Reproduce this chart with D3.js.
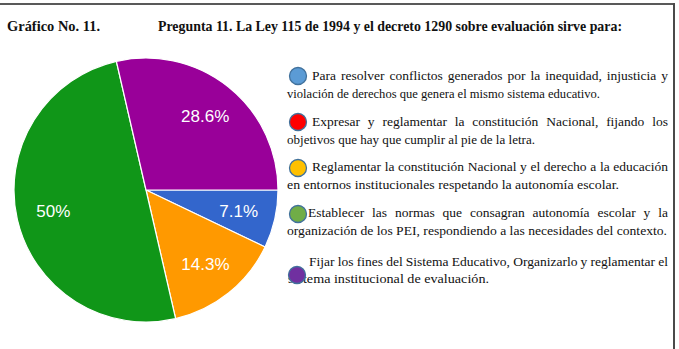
<!DOCTYPE html>
<html lang="es">
<head>
<meta charset="UTF-8">
<title>Gráfico No. 11</title>
<script src="https://d3js.org/d3.v7.min.js"></script>
<style>
  body { margin: 0; background: #fff; }
  svg { display: block; }
</style>
</head>
<body>
<div id="chart"></div>
<script>
const w = 679;
const h = 349;

// data
const categories = [
  "Para resolver conflictos generados por la inequidad, injusticia y violación de derechos que genera el mismo sistema educativo.",
  "Expresar y reglamentar la constitución Nacional, fijando los objetivos que hay que cumplir al pie de la letra.",
  "Reglamentar la constitución Nacional y el derecho a la educación en entornos institucionales respetando la autonomía escolar.",
  "Establecer las normas que consagran autonomía escolar y la organización de los PEI, respondiendo a las necesidades del contexto.",
  "Fijar los fines del Sistema Educativo, Organizarlo y reglamentar el sistema institucional de evaluación."
];
const legendLines = [
  ["Para resolver conflictos generados por la inequidad, injusticia y", "violación de derechos que genera el mismo sistema educativo."],
  ["Expresar y reglamentar la constitución Nacional, fijando los", "objetivos que hay que cumplir al pie de la letra."],
  ["Reglamentar la constitución Nacional y el derecho a la educación", "en entornos institucionales respetando la autonomía escolar."],
  ["Establecer las normas que consagran autonomía escolar y la", "organización de los PEI, respondiendo a las necesidades del contexto."],
  ["Fijar los fines del Sistema Educativo, Organizarlo y reglamentar el", "sistema institucional de evaluación."]
];
const values = [7.1, 0, 14.3, 50, 28.6];
const pieColors = ["#3366cc", "#dc3912", "#ff9900", "#109618", "#990099"];
const legendColors = ["#5b9bd5", "#ff0000", "#ffc000", "#70ad47", "#7030a0"];

const svg = d3.select("#chart").append("svg")
  .attr("width", w)
  .attr("height", h);

// frame (top and right only)
svg.append("line").attr("x1", 0).attr("x2", 675).attr("y1", 4).attr("y2", 4)
  .attr("stroke", "#222").attr("stroke-width", 1.5);
svg.append("line").attr("x1", 674).attr("x2", 674).attr("y1", 3.3).attr("y2", h)
  .attr("stroke", "#4a4a4a").attr("stroke-width", 2);

// titles
const titleFont = "'Liberation Serif', 'Times New Roman', serif";
svg.append("text").attr("x", 7).attr("y", 31)
  .style("font", `bold 14px ${titleFont}`).attr("fill", "#111")
  .attr("textLength", 93).attr("lengthAdjust", "spacingAndGlyphs")
  .text("Gráfico No. 11.");
svg.append("text").attr("x", 158).attr("y", 31)
  .style("font", `bold 14px ${titleFont}`).attr("fill", "#111")
  .attr("textLength", 464).attr("lengthAdjust", "spacingAndGlyphs")
  .text("Pregunta 11. La Ley 115 de 1994 y el decreto 1290 sobre evaluación sirve para:");

// pie
const cx = 146, cy = 190, r = 132;
const pie = d3.pie().sort(null).value(d => d)
  .startAngle(Math.PI / 2).endAngle(Math.PI / 2 + 2 * Math.PI);
const arcs = pie(values);
const arc = d3.arc().innerRadius(0).outerRadius(r);
const labelArc = d3.arc().innerRadius(r * 0.72).outerRadius(r * 0.72);

const g = svg.append("g").attr("transform", `translate(${cx},${cy})`);
g.selectAll("path")
  .data(arcs.filter(d => d.value > 0))
  .join("path")
  .attr("d", arc)
  .attr("fill", d => pieColors[d.index])
  .attr("stroke", "#fff")
  .attr("stroke-width", 1.2);

g.selectAll("text")
  .data(arcs.filter(d => d.value > 0))
  .join("text")
  .attr("transform", d => `translate(${labelArc.centroid(d)})`)
  .attr("text-anchor", "middle")
  .attr("dy", "0.36em")
  .style("font", "17px 'Liberation Sans', Arial, sans-serif")
  .attr("fill", "#fff")
  .text(d => d3.format(".3~")(d.value) + "%");

// legend with justified text
const legendFont = "13.5px 'Liberation Serif', 'Times New Roman', serif";
const rightEdge = 668;
const items = [
  { cy: 76, first: 312, y1: 80, y2: 98, x2: 287, end2: 600, cxc: 298 },
  { cy: 122, first: 312, y1: 126, y2: 144, x2: 287, end2: 535, cxc: 298 },
  { cy: 168, first: 312, y1: 171, y2: 189, x2: 287, end2: 619, cxc: 298 },
  { cy: 214, first: 308, y1: 217, y2: 235, x2: 287, end2: 667, cxc: 298 },
  { cy: 275, first: 309, y1: 266, y2: 283, x2: 288, end2: 489, cxc: 297 }
];

const legend = svg.append("g");
const measure = svg.append("text").style("font", legendFont).attr("visibility", "hidden");
function wordWidth(s) { measure.text(s); return measure.node().getComputedTextLength(); }

function justify(group, line, x0, x1, y) {
  const words = line.split(" ");
  const widths = words.map(wordWidth);
  const total = d3.sum(widths);
  const gap = (x1 - x0 - total) / (words.length - 1);
  let x = x0;
  words.forEach((wd, i) => {
    group.append("text").attr("x", x).attr("y", y)
      .style("font", legendFont).attr("fill", "#111").text(wd);
    x += widths[i] + gap;
  });
}

items.forEach((it, i) => {
  const gi = legend.append("g").attr("class", "legend-item").attr("data-name", categories[i]);
  justify(gi, legendLines[i][0], it.first, rightEdge, it.y1);
  gi.append("text").attr("x", it.x2).attr("y", it.y2)
    .style("font", legendFont).attr("fill", "#111")
    .attr("textLength", it.end2 - it.x2).attr("lengthAdjust", "spacingAndGlyphs")
    .text(legendLines[i][1]);
  gi.append("circle").attr("cx", it.cxc).attr("cy", it.cy).attr("r", 8.5)
    .attr("fill", legendColors[i]).attr("stroke", "#41719c").attr("stroke-width", 1.3);
});
measure.remove();
</script>
</body>
</html>
